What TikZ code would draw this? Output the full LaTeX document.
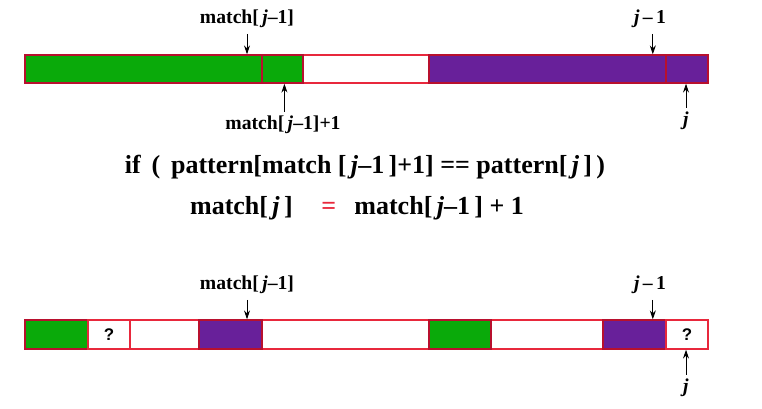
\documentclass[tikz,border=0pt]{standalone}
\usepackage{fontspec}
\setmainfont{Liberation Serif}
\newfontfamily\pregunta{Liberation Sans}
\usetikzlibrary{positioning,arrows.meta,fit}
\definecolor{kmpVerde}{HTML}{0AAA0A}
\definecolor{kmpMorado}{HTML}{68209A}
\definecolor{kmpRojo}{HTML}{E8283C}
\definecolor{kmpBorde}{HTML}{B8102E}
\tikzset{
  celda/.style={rectangle, draw=kmpRojo, line width=1.1pt, inner sep=0pt, fill=white},
  relleno/.style={celda, draw=kmpBorde, fill=#1},
  incognita/.style={font=\pregunta\fontsize{12}{14}\selectfont\bfseries, inner sep=0pt},
  rotulo/.style={font=\fontsize{14}{16}\selectfont\bfseries, inner sep=1pt},
  formula/.style={font=\fontsize{18.5}{22}\selectfont\bfseries, inner sep=1pt},
  flechaPtr/.style={-{Stealth[length=2.2mm,width=1.5mm]}, line width=0.6pt},
}

\begin{document}
\begin{tikzpicture}[x=0.025cm, y=-0.025cm]
    \useasboundingbox (0,0) rectangle (762,408);
    % fila de arriba
    \node[celda, fit={(25,55)(708,83)}] (t0) {};
    \node[relleno=kmpVerde, fit={(25,55)(262,83)}] (t1) {};
    \node[relleno=kmpVerde, fit={(262,55)(303,83)}] (t2) {};
    \node[relleno=kmpMorado, fit={(429,55)(666,83)}] (t3) {};
    \node[relleno=kmpMorado, fit={(666,55)(708,83)}] (t4) {};
    \node[rotulo] (tm1) at (247,19) {match[\,\textit{j}–1]};
    \node[rotulo] (tm2) at (283,125) {match[\,\textit{j}–1]+1};
    \node[rotulo] (tj1) at (650,19) {\textit{j}\,–\,1};
    \node[rotulo] (tj) at (686,121) {\textit{j}};
    \draw[flechaPtr] ([yshift=-3pt]tm1.south) -- (tm1.south |- t1.north);
    \draw[flechaPtr] ([xshift=1pt,yshift=2pt]tm2.north) -- ([xshift=1pt]tm2.north |- t2.south);
    \draw[flechaPtr] ([xshift=2pt,yshift=-3pt]tj1.south) -- ([xshift=2pt]tj1.south |- t3.north);
    \draw[flechaPtr] ([yshift=2pt]tj.north) -- (tj.north |- t4.south);
    % condicion
    \node[formula] (f1) at (365,167) {if\, (\, pattern[match [\,\textit{j}–1\,]+1] == pattern[\,\textit{j}\,]\,)};
    \node[formula] (f2) at (357,208) {match[\,\textit{j}\,]\hspace{1.1em}\textcolor{kmpRojo}{=}\hspace{0.7em}match[\,\textit{j}–1\,] + 1};
    % fila de abajo
    \node[celda, fit={(25,320)(708,349)}] (b0) {};
    \node[relleno=kmpVerde, fit={(25,320)(88,349)}] (b1) {};
    \node[celda, fit={(88,320)(130,349)}] (b2) {};
    \node[relleno=kmpMorado, fit={(199,320)(262,349)}] (b3) {};
    \node[relleno=kmpVerde, fit={(429,320)(491,349)}] (b4) {};
    \node[relleno=kmpMorado, fit={(603,320)(666,349)}] (b5) {};
    \node[celda, fit={(666,320)(708,349)}] (b6) {};
    \node[incognita] (q1) at (b2.center) {?};
    \node[incognita] (q2) at (b6.center) {?};
    \node[rotulo] (bm1) at (247,285) {match[\,\textit{j}–1]};
    \node[rotulo] (bj1) at (650,285) {\textit{j}\,–\,1};
    \node[rotulo] (bj) at (686,388) {\textit{j}};
    \draw[flechaPtr] ([yshift=-3pt]bm1.south) -- (bm1.south |- b3.north);
    \draw[flechaPtr] ([xshift=2pt,yshift=-3pt]bj1.south) -- ([xshift=2pt]bj1.south |- b5.north);
    \draw[flechaPtr] ([yshift=2pt]bj.north) -- (bj.north |- b6.south);
\end{tikzpicture}
\end{document}
